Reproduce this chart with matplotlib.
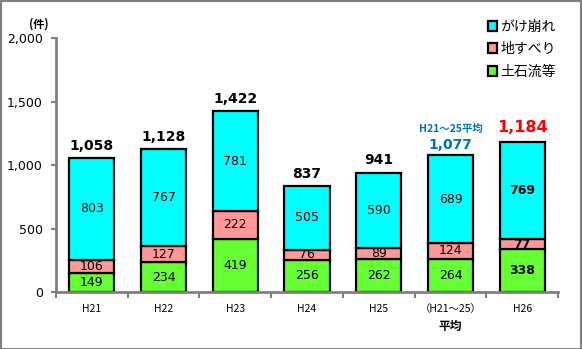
import matplotlib
matplotlib.use("Agg")
import matplotlib.pyplot as plt
from matplotlib.patches import Rectangle
from matplotlib.ticker import FuncFormatter

plt.rcParams["font.family"] = ["Noto Sans CJK JP", "DejaVu Sans"]

categories = ["H21", "H22", "H23", "H24", "H25", "（H21～25）", "H26"]
debris_flow = [149, 234, 419, 256, 262, 264, 338]   # 土石流等
landslide = [106, 127, 222, 76, 89, 124, 77]        # 地すべり
slope_failure = [803, 767, 781, 505, 590, 689, 769]  # がけ崩れ
totals = [1058, 1128, 1422, 837, 941, 1077, 1184]

series_names = ["土石流等", "地すべり", "がけ崩れ"]
colours = ["#66FF33", "#FF9999", "#00FFFF"]

fig = plt.figure(figsize=(5.82, 3.49), dpi=100)
ax = fig.add_axes([0.096, 0.163, 0.863, 0.728])

x = list(range(len(categories)))
width = 0.63
bottom = [0] * len(x)
handles = []
for vals, col, name in zip([debris_flow, landslide, slope_failure], colours, series_names):
    h = ax.bar(x, vals, width, bottom=bottom, color=col, edgecolor="black",
               linewidth=1.6, label=name)
    handles.append(h)
    for i, (v, b) in enumerate(zip(vals, bottom)):
        bold = i == len(x) - 1
        ax.text(i, b + v / 2, f"{v}", ha="center", va="center", fontsize=9,
                fontweight="bold" if bold else "normal", family="DejaVu Sans")
    bottom = [b + v for b, v in zip(bottom, vals)]

# totals above each stack
for i, t in enumerate(totals):
    if i == 5:
        ax.text(i, t + 25, f"{t:,}", ha="center", va="bottom", fontsize=10,
                fontweight="bold", color="#0070C0", family="DejaVu Sans")
        ax.text(i, t + 170, "H21～25平均", ha="center", va="bottom", fontsize=7.5,
                fontweight="bold", color="#0070C0")
    elif i == 6:
        ax.text(i, t + 50, f"{t:,}", ha="center", va="bottom", fontsize=11.5,
                fontweight="bold", color="red", family="DejaVu Sans")
    else:
        ax.text(i, t + 40, f"{t:,}", ha="center", va="bottom", fontsize=10,
                fontweight="bold", color="black", family="DejaVu Sans")

ax.set_xlim(-0.5, len(x) - 0.5)
ax.set_ylim(0, 2000)
ax.set_yticks([0, 500, 1000, 1500, 2000])
ax.yaxis.set_major_formatter(FuncFormatter(lambda v, p: f"{int(v):,}"))
ax.tick_params(axis="y", labelsize=9, color="#808080", length=3.5, width=1.5, pad=6)
for lbl in ax.get_yticklabels():
    lbl.set_family("DejaVu Sans")

# category boundaries as x ticks
ax.set_xticks([i - 0.5 for i in range(len(x) + 1)], minor=False)
ax.set_xticklabels([])
ax.tick_params(axis="x", color="#808080", length=4, width=1.5, direction="out")
for i, c in enumerate(categories):
    ax.text(i, -0.045, c, transform=ax.get_xaxis_transform(), ha="center", va="top",
            fontsize=7.5)
ax.text(5, -0.11, "平均", transform=ax.get_xaxis_transform(), ha="center", va="top",
        fontsize=8.5, fontweight="bold")

for side in ["top", "right"]:
    ax.spines[side].set_visible(False)
for side in ["left", "bottom"]:
    ax.spines[side].set_color("#808080")
    ax.spines[side].set_linewidth(2)

fig.text(0.067, 0.95, "(件)", ha="center", va="top", fontsize=8, fontweight="bold")

fig.legend(handles[::-1], series_names[::-1], loc="upper left",
           bbox_to_anchor=(0.826, 0.963), frameon=False, fontsize=10,
           borderpad=0, handlelength=0.7, handleheight=0.7, handletextpad=0.2,
           labelspacing=0.6)

# outer border
fig.patches.append(Rectangle((0.001, 0.001), 0.997, 0.996, transform=fig.transFigure,
                             fill=False, edgecolor="#808080", linewidth=1.5))

fig.savefig("out.png", dpi=100)
